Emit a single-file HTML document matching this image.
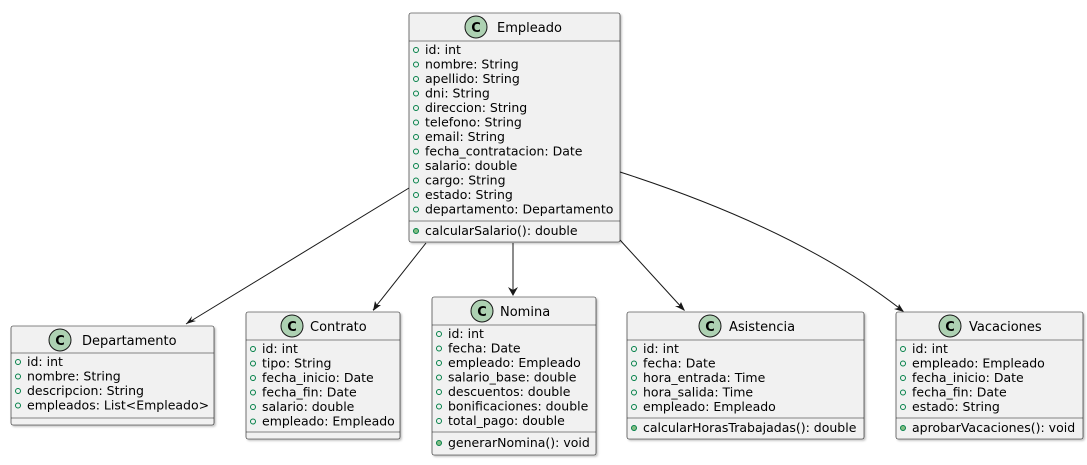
<!DOCTYPE html>
<html><head><meta charset="utf-8"><style>
html,body{margin:0;padding:0;background:#fff;}
svg text{font-family:"DejaVu Sans","Liberation Sans",sans-serif;font-size:12.5px;fill:#000;}
.t{font-size:13px;}
.c{font-family:"DejaVu Sans",sans-serif;font-weight:bold;font-size:13px;}
.b{fill:#F1F1F1;stroke:#181818;stroke-width:0.6;}
.l{stroke:#181818;stroke-width:0.6;}
.o{fill:none;stroke:#038048;stroke-width:1;}
.m{fill:#84BE84;stroke:#038048;stroke-width:1;}
.ic{fill:#ADD1B2;stroke:#181818;stroke-width:1;}
.e{stroke:#181818;stroke-width:1;fill:none;}
.a{fill:#181818;}
</style></head><body>
<svg width="1087" height="460" xmlns="http://www.w3.org/2000/svg">
<defs><filter id="s" x="-5%" y="-5%" width="110%" height="110%"><feDropShadow dx="1.5" dy="1.5" stdDeviation="1" flood-color="#000" flood-opacity="0.25"/></filter></defs>

<!-- edges -->
<line class="e" x1="409" y1="188" x2="186" y2="324"/>
<polygon class="a" points="186,324 192,316 191,320 196,321"/>
<line class="e" x1="426" y1="243" x2="373" y2="310"/>
<polygon class="a" points="373,311 375,301 377,305 381,305"/>
<line class="e" x1="513" y1="243" x2="513" y2="295"/>
<polygon class="a" points="513,296 508,287 513,290 518,287"/>
<line class="e" x1="620" y1="240" x2="684" y2="310"/>
<polygon class="a" points="685,311 675,306 679,306 681,302"/>
<path class="e" d="M620,172 Q800,230 903,311"/>
<polygon class="a" points="904,312 894,309 898,308 899,304"/>

<!-- Empleado -->
<rect class="b" x="409" y="13" width="211" height="229" rx="2" filter="url(#s)"/>
<line class="l" x1="409" y1="41" x2="620" y2="41"/>
<line class="l" x1="409" y1="221" x2="620" y2="221"/>
<circle class="ic" cx="476" cy="27" r="11"/><text class="c" x="476" y="32" text-anchor="middle">C</text>
<text class="t" x="497" y="32">Empleado</text>
<g>
<circle class="o" cx="416" cy="50" r="2.5"/><text x="425" y="54">id: int</text>
<circle class="o" cx="416" cy="64.5" r="2.5"/><text x="425" y="68.5">nombre: String</text>
<circle class="o" cx="416" cy="79" r="2.5"/><text x="425" y="83">apellido: String</text>
<circle class="o" cx="416" cy="93.5" r="2.5"/><text x="425" y="97.5">dni: String</text>
<circle class="o" cx="416" cy="108" r="2.5"/><text x="425" y="112">direccion: String</text>
<circle class="o" cx="416" cy="122.5" r="2.5"/><text x="425" y="126.5">telefono: String</text>
<circle class="o" cx="416" cy="137" r="2.5"/><text x="425" y="141">email: String</text>
<circle class="o" cx="416" cy="151.5" r="2.5"/><text x="425" y="155.5">fecha_contratacion: Date</text>
<circle class="o" cx="416" cy="166" r="2.5"/><text x="425" y="170">salario: double</text>
<circle class="o" cx="416" cy="180.5" r="2.5"/><text x="425" y="184.5">cargo: String</text>
<circle class="o" cx="416" cy="195" r="2.5"/><text x="425" y="199">estado: String</text>
<circle class="o" cx="416" cy="209.5" r="2.5"/><text x="425" y="213.5">departamento: Departamento</text>
<circle class="m" cx="416" cy="231" r="2.5"/><text x="425" y="235">calcularSalario(): double</text>
</g>

<!-- Departamento -->
<rect class="b" x="11" y="326" width="203" height="99" rx="2" filter="url(#s)"/>
<line class="l" x1="11" y1="353" x2="214" y2="353"/>
<line class="l" x1="11" y1="418" x2="214" y2="418"/>
<circle class="ic" cx="60" cy="340" r="11"/><text class="c" x="60" y="345" text-anchor="middle">C</text>
<text class="t" x="82" y="345">Departamento</text>
<circle class="o" cx="18" cy="362" r="2.5"/><text x="27" y="366">id: int</text>
<circle class="o" cx="18" cy="376.5" r="2.5"/><text x="27" y="380.5">nombre: String</text>
<circle class="o" cx="18" cy="391" r="2.5"/><text x="27" y="395">descripcion: String</text>
<circle class="o" cx="18" cy="405.5" r="2.5"/><text x="27" y="409.5">empleados: List&lt;Empleado&gt;</text>

<!-- Contrato -->
<rect class="b" x="246" y="312" width="154" height="127" rx="2" filter="url(#s)"/>
<line class="l" x1="246" y1="340" x2="400" y2="340"/>
<line class="l" x1="246" y1="432" x2="400" y2="432"/>
<circle class="ic" cx="292" cy="326" r="11"/><text class="c" x="292" y="331" text-anchor="middle">C</text>
<text class="t" x="310" y="331">Contrato</text>
<circle class="o" cx="253" cy="349" r="2.5"/><text x="262" y="353">id: int</text>
<circle class="o" cx="253" cy="363.5" r="2.5"/><text x="262" y="367.5">tipo: String</text>
<circle class="o" cx="253" cy="378" r="2.5"/><text x="262" y="382">fecha_inicio: Date</text>
<circle class="o" cx="253" cy="392.5" r="2.5"/><text x="262" y="396.5">fecha_fin: Date</text>
<circle class="o" cx="253" cy="407" r="2.5"/><text x="262" y="411">salario: double</text>
<circle class="o" cx="253" cy="421.5" r="2.5"/><text x="262" y="425.5">empleado: Empleado</text>

<!-- Nomina -->
<rect class="b" x="432" y="297" width="164" height="158" rx="2" filter="url(#s)"/>
<line class="l" x1="432" y1="325" x2="596" y2="325"/>
<line class="l" x1="432" y1="432" x2="596" y2="432"/>
<circle class="ic" cx="482" cy="311" r="11"/><text class="c" x="482" y="316" text-anchor="middle">C</text>
<text class="t" x="500" y="316">Nomina</text>
<circle class="o" cx="439" cy="334" r="2.5"/><text x="448" y="338">id: int</text>
<circle class="o" cx="439" cy="348.5" r="2.5"/><text x="448" y="352.5">fecha: Date</text>
<circle class="o" cx="439" cy="363" r="2.5"/><text x="448" y="367">empleado: Empleado</text>
<circle class="o" cx="439" cy="377.5" r="2.5"/><text x="448" y="381.5">salario_base: double</text>
<circle class="o" cx="439" cy="392" r="2.5"/><text x="448" y="396">descuentos: double</text>
<circle class="o" cx="439" cy="406.5" r="2.5"/><text x="448" y="410.5">bonificaciones: double</text>
<circle class="o" cx="439" cy="421" r="2.5"/><text x="448" y="425">total_pago: double</text>
<circle class="m" cx="439" cy="443" r="2.5"/><text x="448" y="447">generarNomina(): void</text>

<!-- Asistencia -->
<rect class="b" x="627" y="312" width="237" height="127" rx="2" filter="url(#s)"/>
<line class="l" x1="627" y1="340" x2="864" y2="340"/>
<line class="l" x1="627" y1="418" x2="864" y2="418"/>
<circle class="ic" cx="710" cy="326" r="11"/><text class="c" x="710" y="331" text-anchor="middle">C</text>
<text class="t" x="729" y="331">Asistencia</text>
<circle class="o" cx="634" cy="349" r="2.5"/><text x="643" y="353">id: int</text>
<circle class="o" cx="634" cy="363.5" r="2.5"/><text x="643" y="367.5">fecha: Date</text>
<circle class="o" cx="634" cy="378" r="2.5"/><text x="643" y="382">hora_entrada: Time</text>
<circle class="o" cx="634" cy="392.5" r="2.5"/><text x="643" y="396.5">hora_salida: Time</text>
<circle class="o" cx="634" cy="407" r="2.5"/><text x="643" y="411">empleado: Empleado</text>
<circle class="m" cx="634" cy="428" r="2.5"/><text x="643" y="432">calcularHorasTrabajadas(): double</text>

<!-- Vacaciones -->
<rect class="b" x="896" y="312" width="187" height="127" rx="2" filter="url(#s)"/>
<line class="l" x1="896" y1="340" x2="1083" y2="340"/>
<line class="l" x1="896" y1="418" x2="1083" y2="418"/>
<circle class="ic" cx="950" cy="326" r="11"/><text class="c" x="950" y="331" text-anchor="middle">C</text>
<text class="t" x="969" y="331">Vacaciones</text>
<circle class="o" cx="903" cy="349" r="2.5"/><text x="912" y="353">id: int</text>
<circle class="o" cx="903" cy="363.5" r="2.5"/><text x="912" y="367.5">empleado: Empleado</text>
<circle class="o" cx="903" cy="378" r="2.5"/><text x="912" y="382">fecha_inicio: Date</text>
<circle class="o" cx="903" cy="392.5" r="2.5"/><text x="912" y="396.5">fecha_fin: Date</text>
<circle class="o" cx="903" cy="407" r="2.5"/><text x="912" y="411">estado: String</text>
<circle class="m" cx="903" cy="428" r="2.5"/><text x="912" y="432">aprobarVacaciones(): void</text>
</svg>
</body></html>
